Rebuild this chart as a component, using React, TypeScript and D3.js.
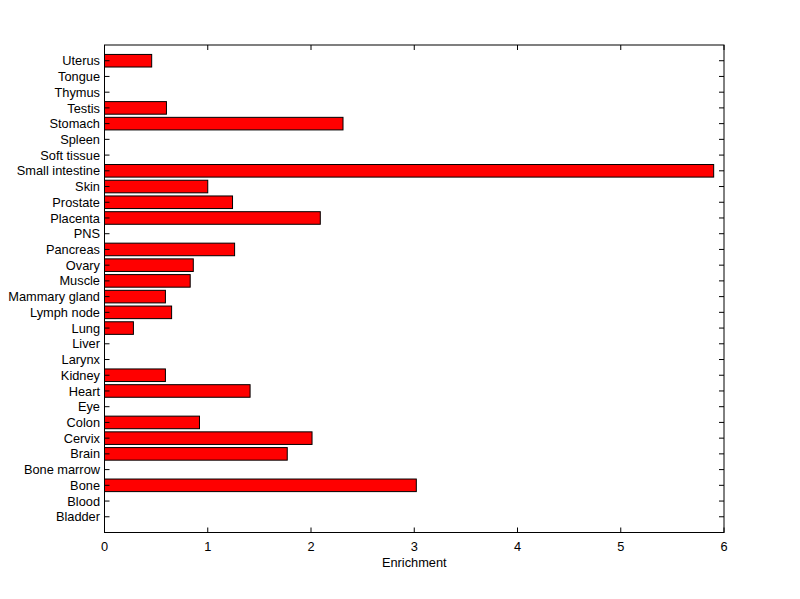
import React from "react";
import * as d3 from "d3";

const categories = [
  "Bladder", "Blood", "Bone", "Bone marrow", "Brain", "Cervix", "Colon", "Eye", "Heart", "Kidney",
  "Larynx", "Liver", "Lung", "Lymph node", "Mammary gland", "Muscle", "Ovary", "Pancreas", "PNS",
  "Placenta", "Prostate", "Skin", "Small intestine", "Soft tissue", "Spleen", "Stomach", "Testis",
  "Thymus", "Tongue", "Uterus",
];
const enrichment = [
  0, 0, 3.02, 0, 1.77, 2.01, 0.92, 0, 1.41, 0.59,
  0, 0, 0.28, 0.65, 0.59, 0.83, 0.86, 1.26, 0,
  2.09, 1.24, 1.0, 5.9, 0, 0, 2.31, 0.6,
  0, 0, 0.457,
];
const xTicks = [0, 1, 2, 3, 4, 5, 6];
const xLabel = "Enrichment";

export default function App() {
  const W = 800, H = 599;
  const left = 104.5, right = 724, top = 45, bottom = 532.5;
  const x = d3.scaleLinear().domain([0, 6]).range([left, right]);
  const y = d3.scaleLinear().domain([0, categories.length + 1]).range([bottom, top]);
  const barH = (y(0) - y(1)) * 0.8;
  const font = "'Liberation Sans', Arial, sans-serif";
  const fs = 12.8;
  const tl = 5;
  return (
    <svg width={W} height={H} style={{ position: "absolute", left: 0, top: 0, background: "#fff" }}>
      <rect x={0} y={0} width={W} height={H} fill="#fff" />
      {categories.map((c, i) => (
        enrichment[i] > 0 ? (
          <rect key={c} x={x(0)} y={y(i + 1) - barH / 2} width={x(enrichment[i]) - x(0)} height={barH}
            fill="#ff0000" stroke="#000" strokeWidth={1} />
        ) : null
      ))}
      <rect x={left} y={top} width={right - left} height={bottom - top} fill="none" stroke="#000" strokeWidth={1} />
      {categories.map((c, i) => (
        <g key={"t" + c}>
          <line x1={left} x2={left + tl} y1={y(i + 1)} y2={y(i + 1)} stroke="#000" />
          <line x1={right} x2={right - tl} y1={y(i + 1)} y2={y(i + 1)} stroke="#000" />
          <text x={left - 4.5} y={y(i + 1)} dy="0.36em" textAnchor="end" fontFamily={font} fontSize={fs}>{c}</text>
        </g>
      ))}
      {xTicks.map((t) => (
        <g key={"x" + t}>
          <line x1={x(t)} x2={x(t)} y1={bottom} y2={bottom - tl} stroke="#000" />
          <line x1={x(t)} x2={x(t)} y1={top} y2={top + tl} stroke="#000" />
          <text x={x(t)} y={bottom + 18.5} textAnchor="middle" fontFamily={font} fontSize={fs}>{t}</text>
        </g>
      ))}
      <text x={(left + right) / 2} y={bottom + 34.5} textAnchor="middle" fontFamily={font} fontSize={fs}>{xLabel}</text>
    </svg>
  );
}
